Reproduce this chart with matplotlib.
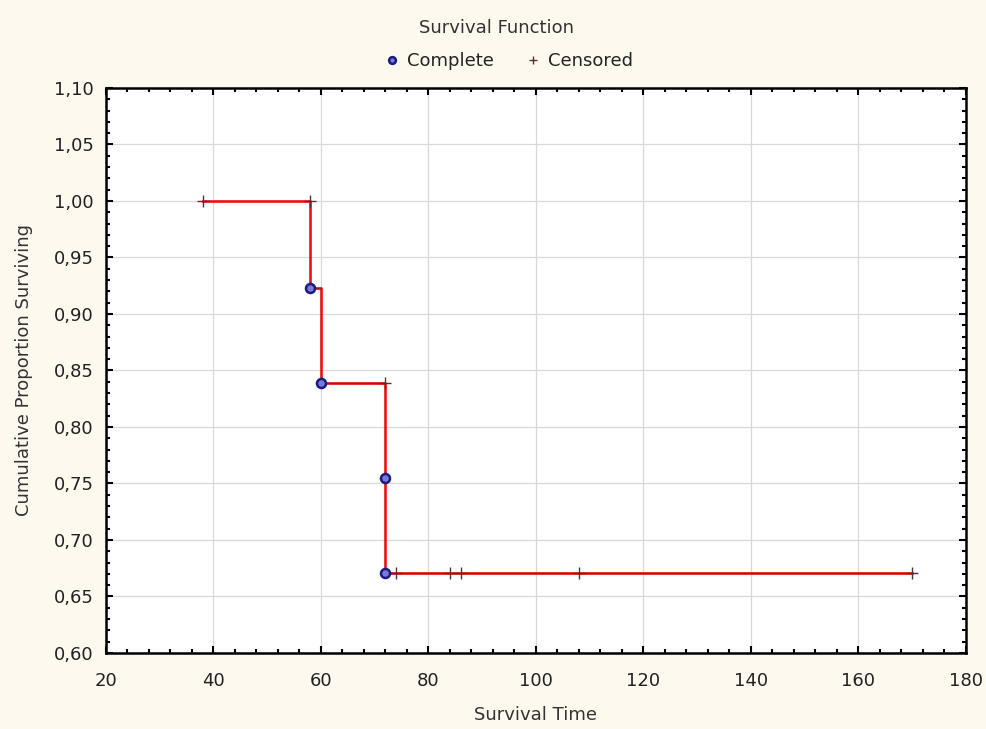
import matplotlib.pyplot as plt
from matplotlib.ticker import MultipleLocator, FuncFormatter
import numpy as np

plt.rcParams['font.family'] = ['DejaVu Sans']

# Kaplan-Meier step curve
step_t = [38, 58, 58, 60, 72, 72, 170]
step_s = [1.000, 1.000, 0.923, 0.839, 0.839, 0.671, 0.671]

# complete (event) observations
comp_t = [58, 60, 72, 72]
comp_s = [0.923, 0.839, 0.755, 0.671]

# censored observations
cens_t = [38, 58, 72, 74, 84, 86, 108, 170]
cens_s = [1.000, 1.000, 0.839, 0.671, 0.671, 0.671, 0.671, 0.671]

bg = '#fdf9ef'
fig = plt.figure(figsize=(9.86, 7.29), dpi=100, facecolor=bg)
ax = fig.add_axes([0.1075, 0.1043, 0.8722, 0.775])
ax.set_facecolor('white')

ax.step(step_t, step_s, where='post', color='#ee1111', lw=1.9, zorder=3)
# darker overlay on the horizontal runs after the first event
for i in range(1, len(step_t) - 1):
    if step_t[i + 1] > step_t[i]:
        ax.plot([step_t[i], step_t[i + 1]], [step_s[i], step_s[i]],
                color='#8a2020', lw=1.0, alpha=0.8, zorder=4)

ax.plot(comp_t, comp_s, 'o', ms=6.5, mfc='#7a7ad8', mec='#1c1c80', mew=1.8,
        ls='none', zorder=6, label='Complete')
ax.plot(cens_t, cens_s, '+', ms=8, color='#5a3030', mew=1.0,
        ls='none', zorder=5, label='Censored')

ax.set_xlim(20, 180)
ax.set_ylim(0.60, 1.10)
ax.xaxis.set_major_locator(MultipleLocator(20))
ax.xaxis.set_minor_locator(MultipleLocator(4))
ax.yaxis.set_major_locator(MultipleLocator(0.05))
ax.yaxis.set_minor_locator(MultipleLocator(0.01))
ax.yaxis.set_major_formatter(FuncFormatter(lambda v, p: f'{v:.2f}'.replace('.', ',')))
ax.tick_params(which='both', direction='in', top=True, right=True,
               labelsize=13, colors='black', labelcolor='#222222', width=1.5)
ax.tick_params(which='major', length=5)
ax.tick_params(which='minor', length=3)
ax.tick_params(axis='x', which='major', pad=14)
ax.tick_params(axis='y', which='major', pad=9)
for s in ax.spines.values():
    s.set_linewidth(1.8)
ax.grid(True, which='major', color='#d8d8d8', lw=0.9)
ax.set_axisbelow(True)

ax.set_xlabel('Survival Time', fontsize=13, color='#333333', labelpad=11)
ax.set_ylabel('Cumulative Proportion Surviving', fontsize=13, color='#333333', labelpad=15)

fig.text(0.504, 0.962, 'Survival Function', ha='center', va='center',
         fontsize=13, color='#333333')
leg = fig.legend(loc='center', bbox_to_anchor=(0.515, 0.916), ncol=2, frameon=False,
                 fontsize=13, handletextpad=0.3, columnspacing=1.7, handlelength=1.0,
                 markerscale=0.75)
for t in leg.get_texts():
    t.set_color('#222222')

fig.savefig('out.png', dpi=100, facecolor=bg)
